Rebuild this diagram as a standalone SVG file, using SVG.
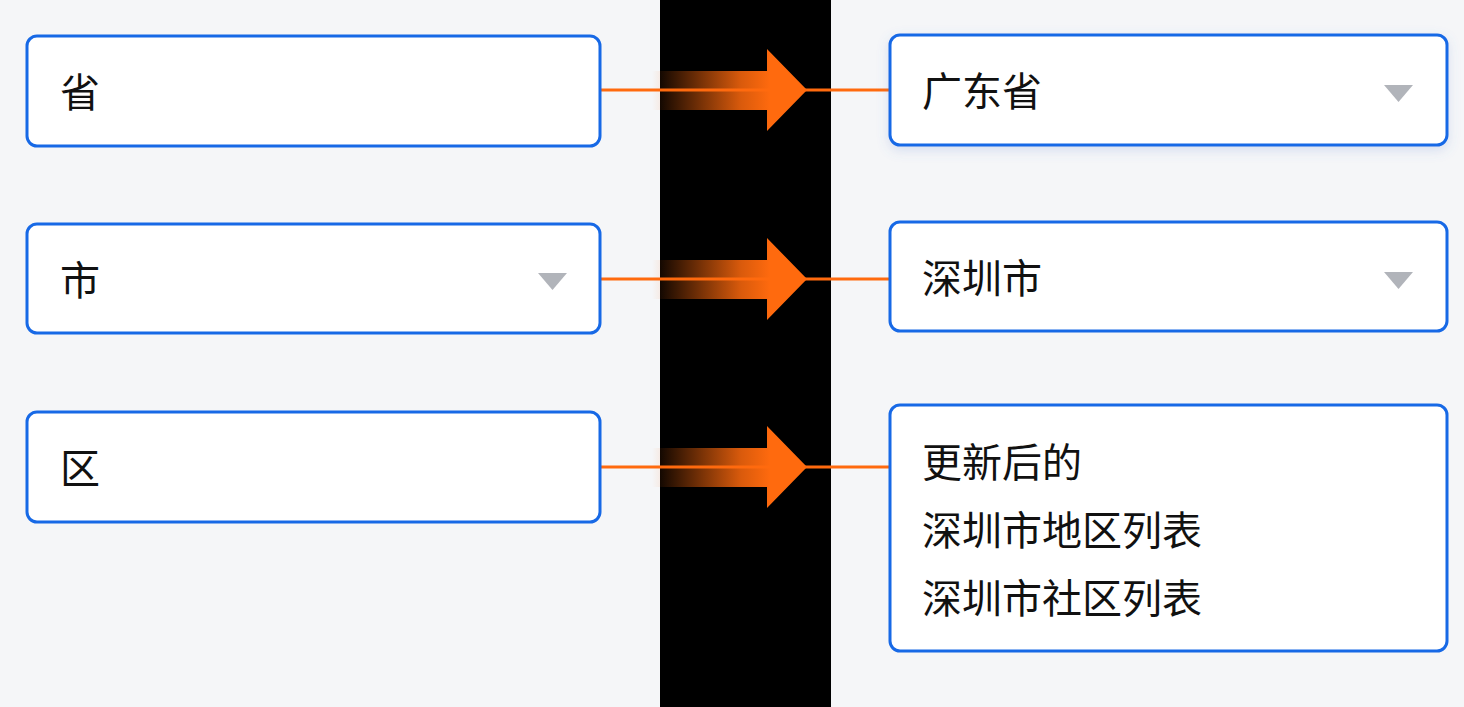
<svg xmlns="http://www.w3.org/2000/svg" width="1464" height="707" viewBox="0 0 1464 707">
<defs>
<style>
.box{fill:#ffffff;stroke:#1769e6;stroke-width:3}
.t{font-family:"Noto Sans CJK SC","Noto Sans",sans-serif;font-size:40px;fill:#111111}
.dd{fill:#b1b4ba}
.ln{stroke:#ff6a0e;stroke-width:3}
</style>
<linearGradient id="g" x1="652" y1="0" x2="800" y2="0" gradientUnits="userSpaceOnUse">
<stop offset="0" stop-color="#ff6a0e" stop-opacity="0"/>
<stop offset="0.6" stop-color="#ff6a0e" stop-opacity="0.85"/>
<stop offset="0.8" stop-color="#ff6a0e" stop-opacity="1"/>
</linearGradient>
<filter id="sh" x="-10%" y="-30%" width="120%" height="160%"><feDropShadow dx="0" dy="4" stdDeviation="6" flood-color="#5a7fd0" flood-opacity="0.2"/></filter>
</defs>
<rect width="1464" height="707" fill="#f5f6f8"/>
<rect x="660" y="0" width="171" height="707" fill="#000000"/>
<g id="connectors">
<g id="c1"><line class="ln" x1="600" y1="90" x2="890" y2="90"/><path d="M652 71 H767 V49 L807 90 L767 131 V110 H652 Z" fill="url(#g)"/></g>
<g id="c2"><line class="ln" x1="600" y1="279" x2="890" y2="279"/><path d="M652 260 H767 V238 L807 279 L767 320 V299 H652 Z" fill="url(#g)"/></g>
<g id="c3"><line class="ln" x1="600" y1="467" x2="890" y2="467"/><path d="M652 448 H767 V426 L807 467 L767 508 V487 H652 Z" fill="url(#g)"/></g>
</g>
<g id="prov"><rect class="box" x="27" y="36" width="573" height="110" rx="10"/><text class="t" x="60" y="107">省</text></g>
<g id="city"><rect class="box" x="27" y="224" width="573" height="109" rx="10"/><text class="t" x="60" y="295">市</text><path class="dd" d="M538 273 H567 L552.5 290 Z"/></g>
<g id="dist"><rect class="box" x="27" y="412" width="573" height="110" rx="10"/><text class="t" x="60" y="483">区</text></g>
<g id="prov2"><rect class="box" x="890" y="35" width="557" height="110" rx="10" filter="url(#sh)"/><text class="t" x="922" y="106">广东省</text><path class="dd" d="M1384 85 H1413 L1398.5 102 Z"/></g>
<g id="city2"><rect class="box" x="890" y="222" width="557" height="109" rx="10"/><text class="t" x="922" y="293">深圳市</text><path class="dd" d="M1384 272 H1413 L1398.5 289 Z"/></g>
<g id="dist2"><rect class="box" x="890" y="405" width="557" height="246" rx="10"/>
<text class="t" x="922" y="477">更新后的</text>
<text class="t" x="922" y="545">深圳市地区列表</text>
<text class="t" x="922" y="613">深圳市社区列表</text></g>
</svg>
